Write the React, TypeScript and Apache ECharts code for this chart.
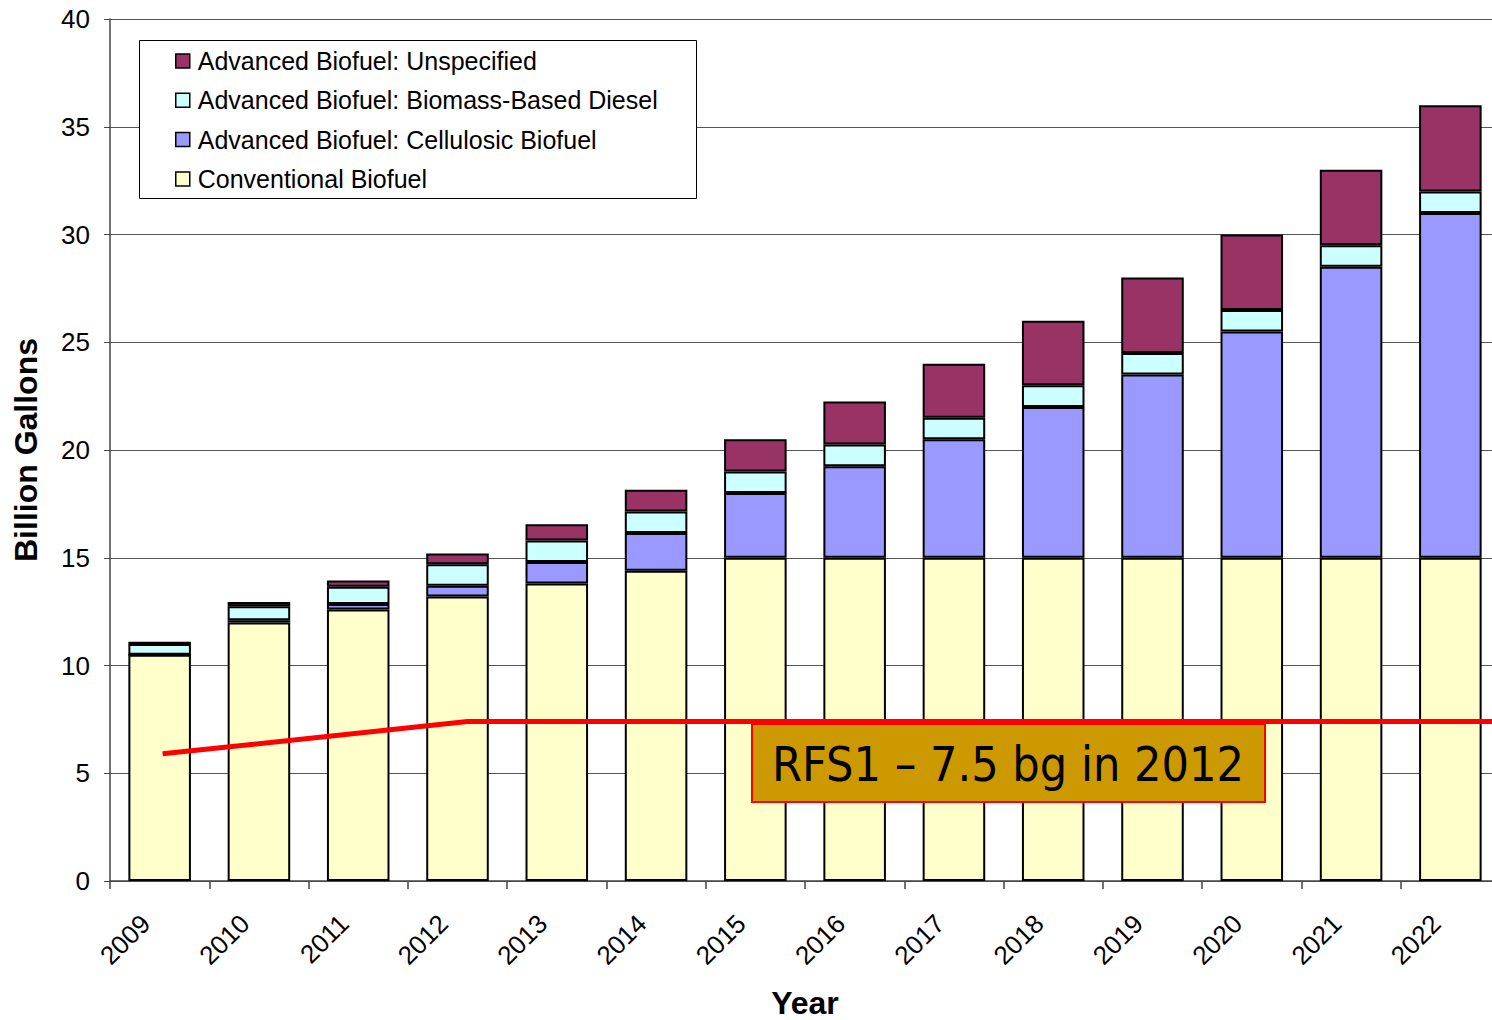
import React, { useEffect, useRef } from "react";
import * as echarts from "echarts";

const years = ["2009", "2010", "2011", "2012", "2013", "2014", "2015", "2016", "2017", "2018", "2019", "2020", "2021", "2022"];
const conventional = [10.5, 12.0, 12.6, 13.2, 13.8, 14.4, 15, 15, 15, 15, 15, 15, 15, 15];
const cellulosic = [0, 0.1, 0.25, 0.5, 1.0, 1.75, 3.0, 4.25, 5.5, 7.0, 8.5, 10.5, 13.5, 16.0];
const biomassDiesel = [0.5, 0.65, 0.8, 1.0, 1.0, 1.0, 1.0, 1.0, 1.0, 1.0, 1.0, 1.0, 1.0, 1.0];
const unspecified = [0.1, 0.2, 0.3, 0.5, 0.75, 1.0, 1.5, 2.0, 2.5, 3.0, 3.5, 3.5, 3.5, 4.0];
const rfs1Line: [number, number][] = [[0.53, 5.9], [3.6, 7.4], [14, 7.4]];
const yTicks = { min: 0, max: 40, interval: 5 };

const names = [
  "Conventional Biofuel",
  "Advanced Biofuel: Cellulosic Biofuel",
  "Advanced Biofuel: Biomass-Based Diesel",
  "Advanced Biofuel: Unspecified",
];
const colors = ["#FFFFCC", "#9999FF", "#CCFFFF", "#993366"];

export default function App() {
  const ref = useRef<HTMLDivElement>(null);
  useEffect(() => {
    if (!ref.current) return;
    const chart = echarts.init(ref.current, undefined, { renderer: "svg" });
    const font = "Liberation Sans, Arial, sans-serif";
    const dataSets = [conventional, cellulosic, biomassDiesel, unspecified];
    const barSeries = dataSets.map((d, i) => ({
      name: names[i],
      type: "bar",
      stack: "total",
      data: d,
      barCategoryGap: "37%",
      itemStyle: { color: colors[i], borderColor: "#000", borderWidth: 2 },
      z: 2,
    }));
    chart.setOption({
      animation: false,
      textStyle: { fontFamily: font },
      grid: { left: 110, right: -8, top: 19, bottom: 139, containLabel: false, outerBoundsMode: "none" },
      legend: {
        orient: "vertical",
        left: 170,
        top: 43.5,
        itemWidth: 14,
        itemHeight: 14,
        itemGap: 14.3,
        icon: "rect",
        data: [names[3], names[2], names[1], names[0]],
        textStyle: { fontSize: 25, lineHeight: 25, color: "#000", fontFamily: font, padding: [0, 0, 0, 3] },
        itemStyle: { borderWidth: 1.5, borderColor: "#000" },
        selectedMode: false,
        z: 6,
      },
      xAxis: [
        {
          type: "category",
          data: years,
          axisLine: { show: true, lineStyle: { color: "#444", width: 1.5 } },
          axisTick: { show: true, length: 8, alignWithLabel: false, lineStyle: { color: "#444", width: 1.5 } },
          axisLabel: { rotate: 45, fontSize: 26, color: "#000", margin: 24, padding: [0, 20, 0, 0] },
          name: "Year",
          nameLocation: "middle",
          nameGap: 106,
          nameTextStyle: { fontSize: 32, fontWeight: "bold", color: "#000" },
        },
        { type: "value", min: 0, max: 14, show: false },
      ],
      yAxis: {
        type: "value",
        min: yTicks.min,
        max: yTicks.max,
        interval: yTicks.interval,
        axisLine: { show: true, lineStyle: { color: "#444", width: 1.5 } },
        axisTick: { show: true, length: 6, lineStyle: { color: "#444" } },
        axisLabel: { fontSize: 26, color: "#000", margin: 20 },
        splitLine: { show: true, lineStyle: { color: "#555", width: 1 } },
        name: "Billion Gallons",
        nameLocation: "middle",
        nameGap: 68,
        nameTextStyle: { fontSize: 32, fontWeight: "bold", color: "#000" },
      },
      series: [
        ...barSeries,
        {
          name: "RFS1",
          type: "line",
          xAxisIndex: 1,
          data: rfs1Line,
          symbol: "none",
          lineStyle: { color: "#FF0000", width: 5 },
          z: 5,
          silent: true,
        },
      ],
      graphic: [
        {
          type: "rect",
          z: 3,
          shape: { x: 139.5, y: 40.5, width: 557, height: 158 },
          style: { fill: "#fff", stroke: "#000", lineWidth: 1 },
        },
        {
          type: "rect",
          z: 4,
          shape: { x: 752, y: 724, width: 513, height: 78 },
          style: { fill: "#CC9900", stroke: "#FF0000", lineWidth: 2 },
        },
        {
          type: "text",
          z: 5,
          x: 1008,
          y: 764,
          style: {
            text: "RFS1 – 7.5 bg in 2012",
            font: "48px 'DejaVu Sans Condensed', 'DejaVu Sans', sans-serif",
            fill: "#000",
            align: "center",
            verticalAlign: "middle",
          },
        },
      ],
    });
    return () => chart.dispose();
  }, []);
  return (
    <div
      ref={ref}
      style={{ position: "fixed", left: 0, top: 0, width: 1492, height: 1020, background: "#fff" }}
    />
  );
}
